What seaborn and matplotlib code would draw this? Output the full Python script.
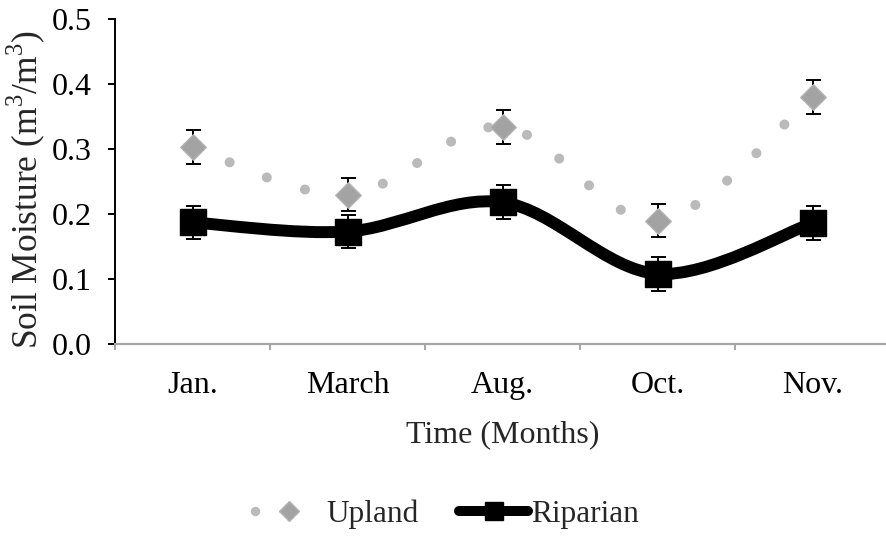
import numpy as np
import matplotlib
matplotlib.use("Agg")
import matplotlib.pyplot as plt
from matplotlib.path import Path
from matplotlib.patches import PathPatch
from matplotlib.lines import Line2D
import seaborn as sns

# ---- data ----
months = ["Jan.", "March", "Aug.", "Oct.", "Nov."]
upland = [0.303, 0.230, 0.334, 0.190, 0.380]
upland_err = [0.026, 0.026, 0.026, 0.026, 0.026]
riparian = [0.187, 0.173, 0.218, 0.108, 0.186]
riparian_err = [0.026, 0.026, 0.026, 0.026, 0.026]
y_ticks = [0.0, 0.1, 0.2, 0.3, 0.4, 0.5]
series_names = ["Upland", "Riparian"]

sns.set_theme(style="white")
plt.rcParams["font.family"] = ["Liberation Serif", "DejaVu Serif"]
plt.rcParams["mathtext.fontset"] = "custom"
plt.rcParams["mathtext.rm"] = "Liberation Serif"

FS = 23
UP_DOT = "#bababa"
UP_DIA = "#a3a3a3"
UP_EDGE = "#b3b3b3"
AX_GRAY = "#a6a6a6"


def smooth_path(xs, ys):
    """Excel-like smoothed line: cubic Bezier through the data points."""
    pts = np.column_stack([xs, ys]).astype(float)
    n = len(pts)
    verts = [pts[0]]
    codes = [Path.MOVETO]
    for i in range(n - 1):
        p0 = pts[i - 1] if i > 0 else pts[i]
        p1 = pts[i]
        p2 = pts[i + 1]
        p3 = pts[i + 2] if i + 2 < n else pts[i + 1]
        c1 = p1 + (p2 - p0) / 6.0
        c2 = p2 - (p3 - p1) / 6.0
        verts += [c1, c2, p2]
        codes += [Path.CURVE4] * 3
    return Path(verts, codes)


fig = plt.figure(figsize=(8.87, 5.38), dpi=100)
ax = fig.add_axes([115 / 887, 1 - 344 / 538, 772 / 887, 325 / 538])

x = np.arange(len(months))

# upland dotted smooth line
ax.add_patch(PathPatch(smooth_path(x, upland), facecolor="none", edgecolor=UP_DOT,
                       lw=7.2, linestyle=(0, (0.01, 4.0)), capstyle="round",
                       joinstyle="round", zorder=1))
# riparian thick smooth line
ax.add_patch(PathPatch(smooth_path(x, riparian), facecolor="none", edgecolor="black",
                       lw=8.6, capstyle="round", joinstyle="round", zorder=2))

# error bars
ax.errorbar(x, upland, yerr=upland_err, fmt="none", ecolor="black",
            elinewidth=1.4, capsize=5.4, capthick=1.4, zorder=3)
ax.errorbar(x, riparian, yerr=riparian_err, fmt="none", ecolor="black",
            elinewidth=1.4, capsize=5.4, capthick=1.4, zorder=3)

# markers
sns.scatterplot(x=x, y=upland, marker="D", s=13.0 ** 2, color=UP_DIA,
                edgecolor=UP_EDGE, linewidth=1.0, zorder=4, ax=ax, legend=False)
sns.scatterplot(x=x, y=riparian, marker="s", s=18.5 ** 2, color="black",
                edgecolor="black", linewidth=1.0, zorder=5, ax=ax, legend=False)

ax.set_xlim(-0.5, -0.5 + 772 / 155)
ax.set_ylim(0, 0.5)

# y axis
ax.set_yticks(y_ticks)
ax.set_yticklabels([f"{v:.1f}" for v in y_ticks], fontsize=FS)
ax.tick_params(axis="y", which="major", direction="out", length=5, width=1.4,
               color="black", pad=12, left=True, labelcolor="black")

# x axis
ax.set_xticks(x)
ax.set_xticklabels(months, fontsize=FS)
ax.set_xticks(np.arange(len(months)) - 0.5, minor=True)
ax.tick_params(axis="x", which="major", length=0, pad=19.5, labelcolor="black")
ax.tick_params(axis="x", which="minor", direction="out", length=4.3, width=1.4,
               color=AX_GRAY, bottom=True)

for s in ["top", "right"]:
    ax.spines[s].set_visible(False)
ax.spines["left"].set_color("black")
ax.spines["left"].set_linewidth(1.4)
ax.spines["bottom"].set_color(AX_GRAY)
ax.spines["bottom"].set_linewidth(1.6)
ax.grid(False)

ax.set_ylabel("Soil Moisture (m$^\\mathregular{3}$/m$^\\mathregular{3}$)", fontsize=25.5)
ax.yaxis.set_label_coords(-0.088, 0.475)
ax.set_xlabel("Time (Months)", fontsize=FS)
ax.xaxis.set_label_coords((502.5 - 115) / 772, -0.233)

# legend
up_handle = Line2D([], [], color=UP_DOT, lw=6.8, linestyle=(0, (0.01, 12)),
                   dash_capstyle="round", marker="D", ms=9.7,
                   markerfacecolor=UP_DIA, markeredgecolor=UP_EDGE, markeredgewidth=1.0)
rip_handle = Line2D([], [], color="black", lw=7.2, solid_capstyle="round",
                    marker="s", ms=13.5, markerfacecolor="black", markeredgecolor="black")
fig.legend([up_handle, rip_handle], series_names, loc="center",
           bbox_to_anchor=(447 / 887, 1 - 514 / 538), ncol=2, frameon=False,
           fontsize=22.5, handlelength=2.2, handletextpad=0.1, columnspacing=1.3,
           numpoints=1, borderpad=0, borderaxespad=0)

fig.savefig("out.png", dpi=100, facecolor="white")
